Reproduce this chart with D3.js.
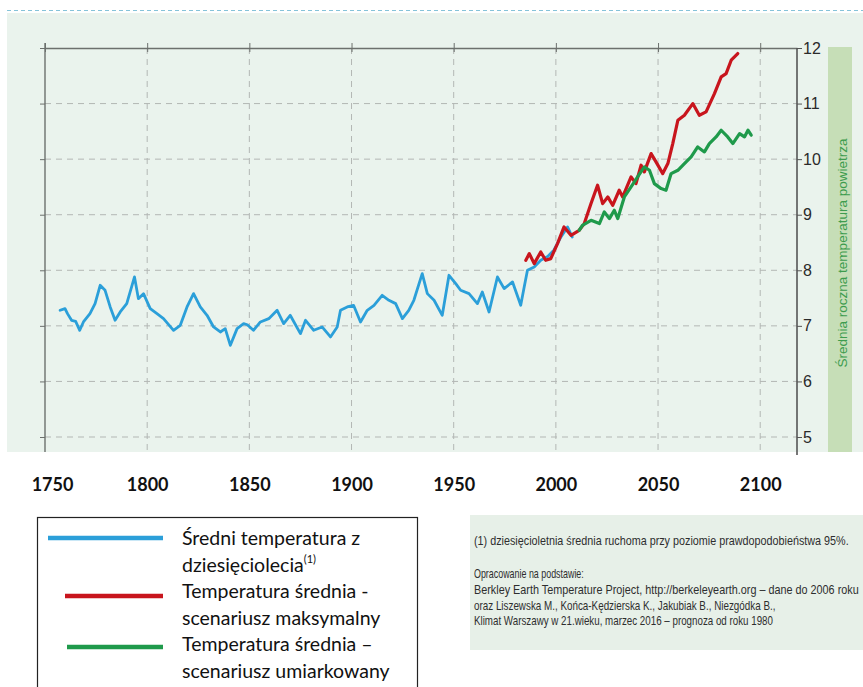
<!doctype html>
<html>
<head>
<meta charset="utf-8">
<script src="https://cdn.jsdelivr.net/npm/d3@7"></script>
<style>
  body { margin: 0; background: #fff; }
  svg { display: block; }
</style>
</head>
<body>
<svg id="chart" width="863" height="687"></svg>
<script>
// decade moving average (historic, Berkeley Earth)
var blueYears = [1757.4, 1759.8, 1761, 1763, 1765, 1767, 1768.8, 1772, 1774.5, 1777, 1779.4, 1781.9, 1784.3, 1786.8, 1790,
  1793.8, 1795.7, 1798.2, 1801.5, 1804.8, 1808, 1812.9, 1816.2, 1819.5, 1822.7, 1826, 1829.3, 1832.5, 1835.8, 1838.2,
  1840.7, 1844, 1847.2, 1849, 1852, 1855.4, 1859.5, 1863.6, 1866.8, 1870, 1875, 1877.5, 1881.5, 1885.6, 1889.7, 1893,
  1894.6, 1897.9, 1901, 1904.4, 1907.7, 1911, 1915, 1918.3, 1921.6, 1924.9, 1928, 1930.5, 1934.6, 1937.1, 1940.4, 1944.4,
  1947.7, 1951, 1953.4, 1957.5, 1961.6, 1964, 1967.3, 1971.4, 1974.7, 1978.8, 1982.8, 1984.5, 1986.1, 1989.4, 1992.6,
  1996, 1999, 2002.5, 2005.7, 2008];
var blueTemps = [7.28, 7.31, 7.22, 7.10, 7.08, 6.92, 7.07, 7.22, 7.40, 7.73, 7.64, 7.34, 7.10, 7.25, 7.40,
  7.88, 7.49, 7.58, 7.31, 7.22, 7.13, 6.92, 7.01, 7.34, 7.58, 7.34, 7.19, 6.98, 6.89, 6.95,
  6.65, 6.95, 7.04, 7.02, 6.92, 7.07, 7.13, 7.28, 7.04, 7.19, 6.86, 7.10, 6.92, 6.98, 6.80, 6.98,
  7.28, 7.34, 7.37, 7.07, 7.28, 7.37, 7.55, 7.46, 7.40, 7.13, 7.28, 7.46, 7.94, 7.58, 7.46, 7.19,
  7.91, 7.76, 7.64, 7.58, 7.40, 7.61, 7.25, 7.88, 7.67, 7.79, 7.37, 7.70, 8.00, 8.06, 8.18,
  8.25, 8.36, 8.60, 8.78, 8.60];

// maximal scenario
var redYears = [1985.3, 1987, 1989.4, 1992.6, 1995, 1997.5, 2000.8, 2004, 2007.4, 2011.4, 2013.9, 2017.2, 2020.4, 2022.9,
  2025.4, 2027.8, 2031, 2032.7, 2036.8, 2039.2, 2041.7, 2043.3, 2046.6, 2049, 2052.3, 2054.8, 2057.2, 2059.7, 2062.9,
  2067, 2070.2, 2073.5, 2077.6, 2080.9, 2083.3, 2085.8, 2089];
var redTemps = [8.18, 8.30, 8.12, 8.33, 8.18, 8.21, 8.48, 8.78, 8.63, 8.72, 8.84, 9.20, 9.53, 9.20,
  9.32, 9.17, 9.44, 9.32, 9.68, 9.56, 9.89, 9.77, 10.10, 9.95, 9.74, 9.92, 10.28, 10.70, 10.79,
  11.00, 10.79, 10.85, 11.18, 11.48, 11.54, 11.78, 11.90];

// moderate scenario
var greenYears = [2011.4, 2013, 2017.2, 2021.3, 2023.7, 2026.2, 2028.6, 2030.3, 2033.5, 2036.8, 2040, 2043.3, 2045.8,
  2048.2, 2051.5, 2053.9, 2056.4, 2059.7, 2062.9, 2066.2, 2069.4, 2072.7, 2075.1, 2078.4, 2080.9, 2084.1, 2086.6,
  2089.9, 2092.3, 2094, 2095.6];
var greenTemps = [8.72, 8.81, 8.90, 8.84, 9.05, 8.93, 9.08, 8.93, 9.32, 9.50, 9.68, 9.86, 9.80,
  9.56, 9.47, 9.44, 9.74, 9.80, 9.92, 10.04, 10.22, 10.13, 10.28, 10.40, 10.52, 10.40, 10.28,
  10.46, 10.40, 10.52, 10.43];

var xTicks = [1750, 1800, 1850, 1900, 1950, 2000, 2050, 2100];
var yTicks = [5, 6, 7, 8, 9, 10, 11, 12];
var axisTitle = "Średnia roczna temperatura powietrza";

var legendItems = [
  { color: "#2b9fd9", lines: ["Średni temperatura z", "dziesięciolecia"], sup: "(1)" },
  { color: "#c8151d", lines: ["Temperatura średnia -", "scenariusz maksymalny"] },
  { color: "#1f9a4b", lines: ["Temperatura średnia –", "scenariusz umiarkowany"] }
];

var noteLines = [
  "(1) dziesięcioletnia średnia ruchoma przy poziomie prawdopodobieństwa 95%.",
  "Opracowanie na podstawie:",
  "Berkley Earth Temperature Project, http://berkeleyearth.org –  dane do 2006 roku",
  "oraz Liszewska M., Końca-Kędzierska K., Jakubiak B., Niezgódka B.,",
  "Klimat Warszawy w 21.wieku, marzec 2016 – prognoza od roku 1980"
];

var svg = d3.select("#chart");

var x = d3.scaleLinear().domain([1750, 2118]).range([45, 797]);
var y = d3.scaleLinear().domain([5, 12]).range([437, 48]);
var plotBottom = 452;

// panel background + dashed top rule
svg.append("rect")
  .attr("x", 7).attr("y", 13).attr("width", 856).attr("height", plotBottom - 13)
  .attr("fill", "#eaf3ed");
svg.append("line")
  .attr("x1", 7).attr("x2", 863).attr("y1", 10.5).attr("y2", 10.5)
  .attr("stroke", "#86c3d9").attr("stroke-width", 1.2).attr("stroke-dasharray", "4,3");

// green title band on the right
svg.append("rect")
  .attr("x", 828).attr("y", y(12) - 1).attr("width", 24).attr("height", plotBottom - y(12) + 1)
  .attr("fill", "#c6deb7");
svg.append("text")
  .attr("transform", "translate(847," + 253 + ") rotate(-90)")
  .attr("text-anchor", "middle")
  .attr("font-family", "Liberation Sans, Arial, sans-serif")
  .attr("font-size", 13.5)
  .attr("fill", "#3d9c4e")
  .text(axisTitle);

// grid
var grid = svg.append("g");
grid.selectAll(".hg")
  .data(yTicks.filter(function(d) { return d < 12; }))
  .enter().append("line")
  .attr("x1", x(1750)).attr("x2", x(2118))
  .attr("y1", function(d) { return y(d); }).attr("y2", function(d) { return y(d); })
  .attr("stroke", "#b3b7b4").attr("stroke-dasharray", "6,5");
grid.selectAll(".vg")
  .data(xTicks.filter(function(d) { return d > 1750; }))
  .enter().append("line")
  .attr("x1", function(d) { return x(d); }).attr("x2", function(d) { return x(d); })
  .attr("y1", y(12)).attr("y2", plotBottom)
  .attr("stroke", "#b3b7b4").attr("stroke-dasharray", "6,5");

// top axis line with ticks
var topAxis = svg.append("g")
  .attr("transform", "translate(0," + y(12) + ")")
  .call(d3.axisTop(x).tickValues(xTicks).tickSize(5).tickSizeOuter(0).tickFormat(""));
topAxis.select(".domain").attr("stroke", "#6c706d").attr("stroke-width", 1.4);
topAxis.selectAll(".tick line").attr("stroke", "#6c706d").attr("y2", -5).attr("y1", 4);

// left axis
var leftAxis = svg.append("g")
  .attr("transform", "translate(" + x(1750) + ",0)")
  .call(d3.axisLeft(y).tickValues(yTicks).tickSize(5).tickSizeOuter(0).tickFormat(""));
leftAxis.select(".domain").remove();
leftAxis.selectAll(".tick line").attr("stroke", "#6c706d");
svg.append("line")
  .attr("x1", x(1750)).attr("x2", x(1750)).attr("y1", y(12) - 5).attr("y2", plotBottom)
  .attr("stroke", "#6c706d").attr("stroke-width", 1.4);

// right axis with values
var rightAxis = svg.append("g")
  .attr("transform", "translate(" + x(2118) + ",0)")
  .call(d3.axisRight(y).tickValues(yTicks).tickSize(5).tickSizeOuter(0).tickFormat(d3.format("d")));
rightAxis.select(".domain").remove();
rightAxis.selectAll(".tick line").attr("stroke", "#555");
rightAxis.selectAll(".tick text")
  .attr("x", 6)
  .attr("font-family", "Liberation Sans, Arial, sans-serif")
  .attr("font-size", 16)
  .attr("fill", "#2a2a2a");
svg.append("line")
  .attr("x1", x(2118)).attr("x2", x(2118)).attr("y1", y(12)).attr("y2", plotBottom + 3)
  .attr("stroke", "#555").attr("stroke-width", 1.6);

// year labels under the panel
var yearAxis = svg.append("g")
  .attr("transform", "translate(0,475)")
  .call(d3.axisBottom(x).tickValues(xTicks).tickSize(0).tickFormat(d3.format("d")));
yearAxis.select(".domain").remove();
yearAxis.selectAll(".tick text")
  .attr("font-family", "Lato, sans-serif")
  .attr("font-weight", "bold")
  .attr("font-size", 18)
  .attr("fill", "#111")
  .attr("dx", function(d) { return d === 1750 ? 7 : 0; });

// series
var line = d3.line()
  .x(function(d) { return x(d[0]); })
  .y(function(d) { return y(d[1]); })
  .curve(d3.curveLinear);

function pairs(xs, ys) { return xs.map(function(v, i) { return [v, ys[i]]; }); }

var series = [
  { data: pairs(blueYears, blueTemps), color: legendItems[0].color, w: 2.8 },
  { data: pairs(redYears, redTemps), color: legendItems[1].color, w: 3.2 },
  { data: pairs(greenYears, greenTemps), color: legendItems[2].color, w: 3.2 }
];

svg.append("g").selectAll("path")
  .data(series)
  .enter().append("path")
  .attr("d", function(d) { return line(d.data); })
  .attr("fill", "none")
  .attr("stroke", function(d) { return d.color; })
  .attr("stroke-width", function(d) { return d.w; })
  .attr("stroke-linejoin", "round")
  .attr("stroke-linecap", "round");

// legend box
var legend = svg.append("g");
legend.append("rect")
  .attr("x", 37.5).attr("y", 517.5).attr("width", 380).attr("height", 180)
  .attr("fill", "#fff").attr("stroke", "#222").attr("stroke-width", 1.2);

var lineStarts = [48, 65, 67];
var lineYs = [538, 596, 647];
legendItems.forEach(function(item, i) {
  var top = 538 + i * 53;
  legend.append("line")
    .attr("x1", lineStarts[i]).attr("x2", 163)
    .attr("y1", lineYs[i]).attr("y2", lineYs[i])
    .attr("stroke", item.color).attr("stroke-width", 4.5);
  item.lines.forEach(function(t, j) {
    var txt = legend.append("text")
      .attr("x", 182)
      .attr("y", top + 7 + j * 27)
      .attr("font-family", "Lato, sans-serif")
      .attr("font-size", 19.5)
      .attr("fill", "#111")
      .text(t);
    if (j === 1 && item.sup) {
      txt.append("tspan")
        .attr("font-size", 11)
        .attr("dy", -9)
        .text(item.sup);
    }
  });
});

// source note box
var note = svg.append("g");
note.append("rect")
  .attr("x", 470).attr("y", 515).attr("width", 393).attr("height", 135)
  .attr("fill", "#e7f0e8");
var noteY = [545, 578, 594, 610, 625];
var noteW = [375, 110, 385, 302, 299];
noteLines.forEach(function(t, i) {
  var txt = note.append("text")
    .attr("font-family", "Liberation Sans Narrow, Arial Narrow, Liberation Sans, sans-serif")
    .attr("font-size", 13)
    .attr("fill", "#2e2e2e")
    .text(t);
  // squeeze horizontally to the narrow face of the original
  var k = noteW[i] / txt.node().getComputedTextLength();
  txt.attr("transform", "translate(474," + noteY[i] + ") scale(" + Math.min(k, 1) + ",1)");
});
</script>
</body>
</html>
